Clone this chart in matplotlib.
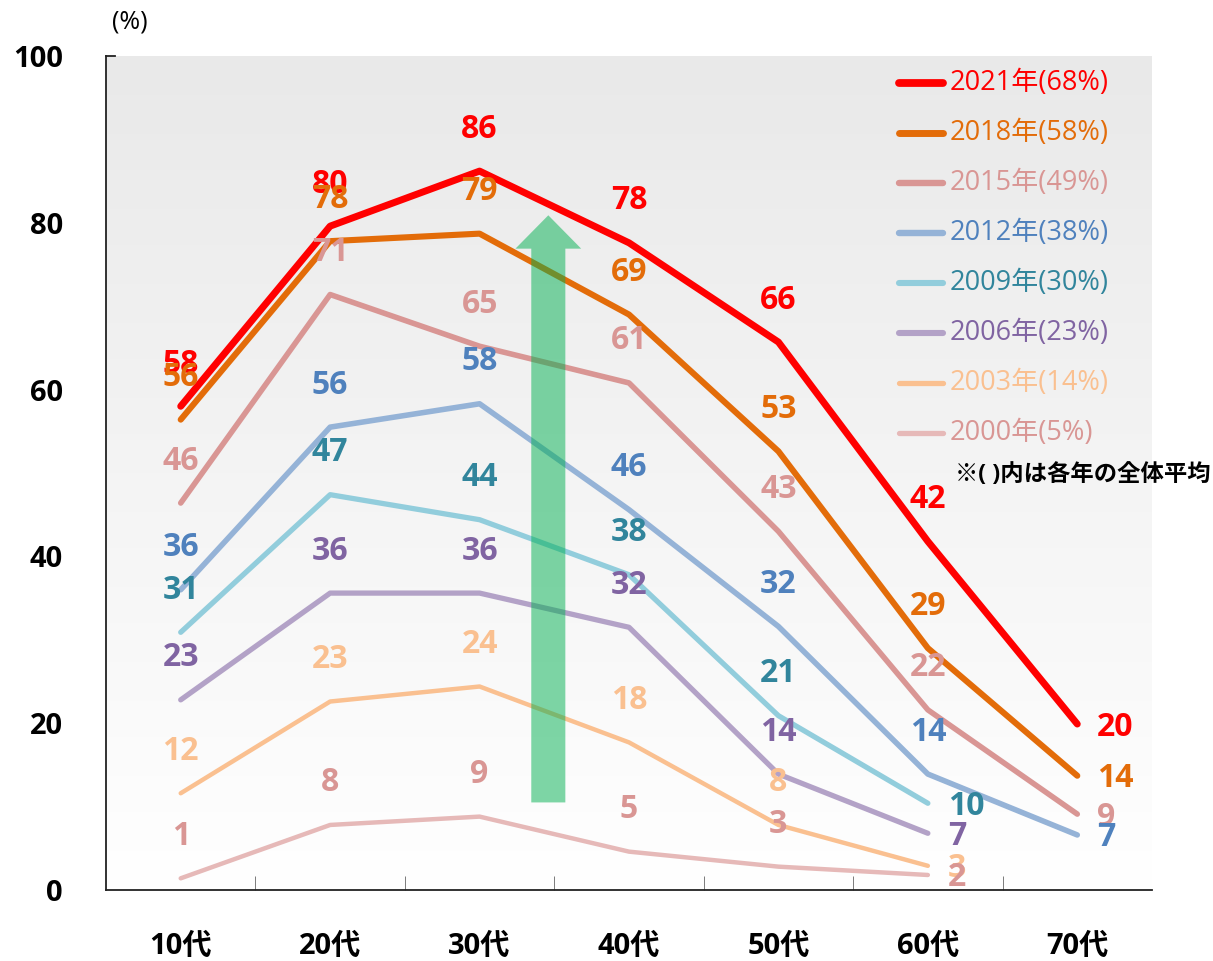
import matplotlib.pyplot as plt
import numpy as np
from matplotlib.lines import Line2D
from matplotlib.patches import FancyArrow

FONTS = ["Open Sans", "Noto Sans CJK JP", "DejaVu Sans"]
plt.rcParams["font.family"] = FONTS

ages = ["10代", "20代", "30代", "40代", "50代", "60代", "70代"]
years = ["2021年", "2018年", "2015年", "2012年", "2009年", "2006年", "2003年", "2000年"]
averages = [68, 58, 49, 38, 30, 23, 14, 5]

v2021 = [58.0, 79.6, 86.2, 77.6, 65.7, 41.8, 19.9]
v2018 = [56.4, 77.8, 78.7, 69.0, 52.6, 29.0, 13.7]
v2015 = [46.4, 71.4, 65.2, 60.8, 43.0, 21.6, 9.1]
v2012 = [36.0, 55.5, 58.3, 45.6, 31.6, 13.9, 6.6]
v2009 = [30.9, 47.4, 44.4, 37.8, 20.9, 10.4]
v2006 = [22.8, 35.6, 35.6, 31.5, 13.9, 6.8]
v2003 = [11.6, 22.6, 24.4, 17.7, 7.8, 2.9]
v2000 = [1.4, 7.8, 8.8, 4.6, 2.8, 1.8]
series = [v2021, v2018, v2015, v2012, v2009, v2006, v2003, v2000]

line_colors = ["#FF0000", "#E36C09", "#D99694", "#95B3D7",
               "#92CDDC", "#B3A2C7", "#FAC090", "#E6B9B8"]
text_colors = ["#FF0000", "#E36C09", "#D99694", "#4F81BD",
               "#31859C", "#8064A2", "#FAC090", "#D99694"]
widths = [5.0, 4.4, 4.0, 4.0, 3.8, 3.8, 3.2, 3.2]

fig = plt.figure(figsize=(12.13, 9.61), dpi=100)
ax = fig.add_axes([106 / 1213, 71 / 961, 1046 / 1213, 834 / 961])

# gradient background
grad = np.linspace(0, 1, 256).reshape(-1, 1)
ax.imshow(grad, cmap=plt.matplotlib.colors.LinearSegmentedColormap.from_list(
    "bg", ["#E9E9E9", "#FFFFFF"]), extent=[0, 1, 0, 1],
    transform=ax.transAxes, aspect="auto", zorder=0)

x = np.arange(len(ages))
for vals, lc, tc, lw in zip(series, line_colors, text_colors, widths):
    xs = x[:len(vals)]
    ax.plot(xs, vals, color=lc, lw=lw, solid_capstyle="round",
            solid_joinstyle="round", zorder=3)
    for i, v in enumerate(vals):
        if i == len(vals) - 1:
            off, ha = (20, -3), "left"
        else:
            off, ha = (0, 42), "center"
        ax.annotate(f"{v:.0f}", (xs[i], v), xytext=off, textcoords="offset pixels",
                    ha=ha, va="center", color=tc, fontsize=23,
                    fontweight="bold", zorder=5)

# upward arrow
ax.add_patch(FancyArrow(2.46, 10.5, 0, 70.4, width=0.228, head_width=0.44,
                        head_length=4.0, length_includes_head=True,
                        facecolor="#00B050", edgecolor="none", alpha=0.5,
                        zorder=4))

ax.set_xlim(-0.5, 6.5)
ax.set_ylim(0, 100)
ax.set_xticks(x)
ax.set_xticklabels(ages, fontsize=21, fontweight="bold")
ax.set_xticks(np.arange(0.5, 6, 1), minor=True)
ax.tick_params(axis="x", which="major", length=0, pad=30)
ax.tick_params(axis="x", which="minor", direction="in", length=10, color="#666666")
ax.set_yticks(np.arange(0, 101, 20))
ax.set_yticklabels([str(t) for t in range(0, 101, 20)], fontsize=21,
                   fontweight="bold")
ax.tick_params(axis="y", direction="in", length=0, pad=31)
for s in ["top", "right"]:
    ax.spines[s].set_visible(False)
for s in ["left", "bottom"]:
    ax.spines[s].set_color("#222222")
    ax.spines[s].set_linewidth(1.3)
ax.plot([-0.5, -0.44], [100, 100], color="#222222", lw=1.3, clip_on=False, zorder=6)

fig.text(130 / 1213, 1 - 22 / 961, "(%)", fontsize=18, ha="center", va="center")

# legend
for k, (yr, avg) in enumerate(zip(years, averages)):
    yf = 1 - (83 + 50 * k) / 961
    fig.add_artist(Line2D([899 / 1213, 943 / 1213], [yf, yf], color=line_colors[k],
                          lw=widths[k] + 0.6, solid_capstyle="round"))
    fig.text(950 / 1213, yf, f"{yr}({avg}%)", color=text_colors[k],
             fontsize=19.5, ha="left", va="center")

fig.text(1211 / 1213, 1 - 475 / 961, "※( )内は各年の全体平均", fontsize=16.8,
         fontweight="bold", ha="right", va="center")

fig.savefig("out.png", dpi=100)
